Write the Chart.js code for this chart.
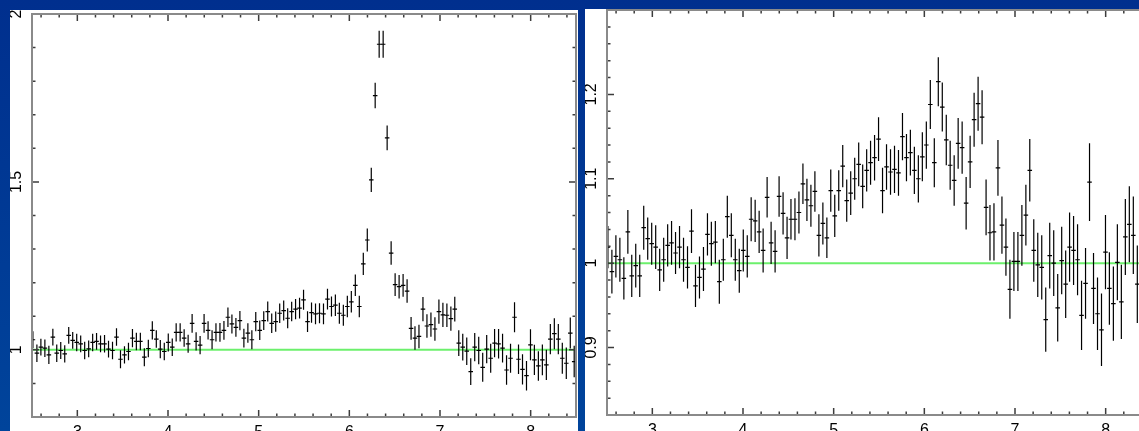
<!DOCTYPE html>
<html>
<head>
<meta charset="utf-8">
<title>Ratio to continuum</title>
<script src="https://cdn.jsdelivr.net/npm/chart.js@4.4.1/dist/chart.umd.min.js"></script>
<style>
    html, body { margin: 0; padding: 0; width: 1139px; height: 431px; overflow: hidden; }
    body { position: relative; background: linear-gradient(to bottom, #002f8e 0%, #00449b 100%); }
    canvas { position: absolute; background: #fff; }
    #left { left: 10px; top: 10px; }
    #right { left: 585px; top: 9px; }
</style>
</head>
<body>
<canvas id="left" width="568" height="421"></canvas>
<canvas id="right" width="575" height="422"></canvas>
<script>
// energy bin centres (keV), shared by both panels
const energies = [
    2.510, 2.554, 2.598, 2.642, 2.686, 2.730, 2.773, 2.817, 2.861, 2.905,
    2.949, 2.993, 3.037, 3.081, 3.125, 3.169, 3.212, 3.256, 3.300, 3.344,
    3.388, 3.432, 3.476, 3.520, 3.564, 3.608, 3.651, 3.695, 3.739, 3.783,
    3.827, 3.871, 3.915, 3.959, 4.003, 4.047, 4.090, 4.134, 4.178, 4.222,
    4.266, 4.310, 4.354, 4.398, 4.442, 4.486, 4.529, 4.573, 4.617, 4.661,
    4.705, 4.749, 4.793, 4.837, 4.881, 4.925, 4.968, 5.012, 5.056, 5.100,
    5.144, 5.188, 5.232, 5.276, 5.320, 5.364, 5.407, 5.451, 5.495, 5.539,
    5.583, 5.627, 5.671, 5.715, 5.759, 5.803, 5.846, 5.890, 5.934, 5.978,
    6.022, 6.066, 6.110, 6.154, 6.198, 6.242, 6.285, 6.329, 6.373, 6.417,
    6.461, 6.505, 6.549, 6.593, 6.637, 6.681, 6.724, 6.768, 6.812, 6.856,
    6.900, 6.944, 6.988, 7.032, 7.076, 7.120, 7.163, 7.207, 7.251, 7.295,
    7.339, 7.383, 7.427, 7.471, 7.515, 7.559, 7.602, 7.646, 7.690, 7.734,
    7.778, 7.822, 7.866, 7.910, 7.954, 7.998, 8.041, 8.085, 8.129, 8.173,
    8.217, 8.261, 8.305, 8.349, 8.393, 8.437, 8.480
];

// left panel: data / continuum ratio
const leftRatio = [
    1.030, 0.990, 1.008, 1.005, 0.985, 1.038, 0.990, 0.998, 0.988, 1.043,
    1.028, 1.022, 1.018, 0.998, 1.003, 1.022, 1.025, 1.018, 1.018, 1.002,
    0.998, 1.038, 0.972, 0.985, 0.995, 1.035, 1.025, 1.025, 0.978, 1.004,
    1.058, 1.032, 1.002, 0.995, 1.022, 1.008, 1.052, 1.052, 1.035, 1.018,
    1.079, 1.025, 1.014, 1.079, 1.058, 1.030, 1.052, 1.052, 1.058, 1.097,
    1.077, 1.067, 1.087, 1.035, 1.050, 1.030, 1.084, 1.058, 1.087, 1.114,
    1.079, 1.084, 1.109, 1.117, 1.094, 1.114, 1.121, 1.124, 1.149, 1.084,
    1.111, 1.107, 1.109, 1.107, 1.151, 1.129, 1.133, 1.109, 1.103, 1.129,
    1.143, 1.192, 1.129, 1.256, 1.327, 1.506, 1.757, 1.910, 1.910, 1.631,
    1.288, 1.194, 1.188, 1.192, 1.175, 1.064, 1.035, 1.040, 1.121, 1.071,
    1.075, 1.062, 1.114, 1.104, 1.103, 1.093, 1.121, 1.020, 1.008, 0.996,
    0.935, 1.008, 0.998, 0.948, 1.002, 0.975, 1.020, 1.018, 1.005, 0.940,
    0.975, 1.097, 0.972, 0.942, 0.923, 1.015, 0.970, 0.952, 0.970, 0.955,
    1.032, 1.048, 1.032, 0.975, 0.960, 1.050, 0.965
];
const leftError = [
    0.025, 0.026, 0.025, 0.026, 0.027, 0.025, 0.026, 0.025, 0.026, 0.025,
    0.025, 0.026, 0.025, 0.026, 0.025, 0.026, 0.025, 0.025, 0.026, 0.025,
    0.026, 0.026, 0.027, 0.026, 0.026, 0.027, 0.026, 0.026, 0.027, 0.026,
    0.027, 0.026, 0.027, 0.026, 0.027, 0.026, 0.027, 0.027, 0.026, 0.027,
    0.028, 0.027, 0.027, 0.028, 0.027, 0.028, 0.027, 0.028, 0.028, 0.029,
    0.028, 0.028, 0.029, 0.028, 0.029, 0.028, 0.029, 0.029, 0.028, 0.030,
    0.029, 0.030, 0.029, 0.030, 0.030, 0.029, 0.030, 0.031, 0.030, 0.031,
    0.030, 0.031, 0.030, 0.031, 0.031, 0.030, 0.032, 0.031, 0.031, 0.032,
    0.032, 0.032, 0.032, 0.033, 0.034, 0.036, 0.038, 0.040, 0.040, 0.037,
    0.035, 0.034, 0.035, 0.034, 0.035, 0.034, 0.035, 0.035, 0.036, 0.035,
    0.036, 0.035, 0.036, 0.036, 0.035, 0.036, 0.037, 0.038, 0.040, 0.041,
    0.040, 0.042, 0.041, 0.043, 0.042, 0.043, 0.042, 0.044, 0.043, 0.044,
    0.043, 0.045, 0.044, 0.045, 0.044, 0.046, 0.045, 0.044, 0.046, 0.045,
    0.045, 0.046, 0.045, 0.046, 0.047, 0.046, 0.047
];

// right panel: ratio after fitting the narrow line
const rightRatio = [
    1.019, 0.990, 1.008, 1.004, 0.982, 1.037, 0.985, 0.997, 0.985, 1.042,
    1.029, 1.023, 1.019, 0.992, 1.004, 1.021, 1.024, 1.012, 1.019, 1.004,
    0.995, 1.038, 0.973, 0.983, 0.993, 1.034, 1.023, 1.025, 0.978, 1.004,
    1.055, 1.033, 1.004, 0.991, 1.015, 1.008, 1.052, 1.050, 1.037, 1.015,
    1.078, 1.024, 1.014, 1.079, 1.059, 1.030, 1.052, 1.052, 1.060, 1.094,
    1.075, 1.068, 1.085, 1.033, 1.047, 1.030, 1.086, 1.056, 1.086, 1.115,
    1.074, 1.083, 1.100, 1.117, 1.091, 1.110, 1.119, 1.125, 1.147, 1.086,
    1.114, 1.108, 1.111, 1.107, 1.150, 1.125, 1.131, 1.110, 1.100, 1.126,
    1.140, 1.188, 1.119, 1.215, 1.185, 1.146, 1.116, 1.098, 1.142, 1.137,
    1.071, 1.120, 1.170, 1.189, 1.173, 1.066, 1.036, 1.037, 1.113, 1.045,
    1.019, 0.969, 1.002, 1.002, 1.033, 1.057, 1.110, 1.015, 0.998, 0.995,
    0.933, 1.009, 1.000, 0.947, 1.003, 0.975, 1.019, 1.015, 1.004, 0.938,
    0.976, 1.096, 0.970, 0.940, 0.921, 1.013, 0.970, 0.952, 1.001, 0.954,
    1.031, 1.046, 1.033, 0.975
];
const rightError = [
    0.025, 0.026, 0.025, 0.026, 0.025, 0.026, 0.025, 0.026, 0.025, 0.026,
    0.025, 0.025, 0.026, 0.025, 0.026, 0.025, 0.026, 0.025, 0.025, 0.026,
    0.025, 0.026, 0.025, 0.025, 0.026, 0.025, 0.026, 0.025, 0.026, 0.025,
    0.025, 0.026, 0.025, 0.026, 0.025, 0.025, 0.026, 0.025, 0.025, 0.026,
    0.024, 0.025, 0.025, 0.024, 0.025, 0.025, 0.024, 0.025, 0.025, 0.024,
    0.025, 0.025, 0.024, 0.025, 0.025, 0.024, 0.025, 0.025, 0.024, 0.025,
    0.025, 0.026, 0.025, 0.026, 0.026, 0.025, 0.026, 0.027, 0.026, 0.027,
    0.027, 0.027, 0.028, 0.027, 0.028, 0.028, 0.027, 0.028, 0.028, 0.029,
    0.028, 0.029, 0.029, 0.029, 0.029, 0.030, 0.029, 0.030, 0.030, 0.031,
    0.031, 0.031, 0.032, 0.032, 0.032, 0.033, 0.033, 0.034, 0.033, 0.034,
    0.034, 0.035, 0.035, 0.035, 0.036, 0.036, 0.037, 0.037, 0.038, 0.038,
    0.038, 0.039, 0.039, 0.040, 0.040, 0.040, 0.041, 0.041, 0.042, 0.041,
    0.042, 0.046, 0.042, 0.043, 0.043, 0.044, 0.043, 0.044, 0.045, 0.044,
    0.045, 0.045, 0.046, 0.046
];

// axis labels
const xTickLabels = [3, 4, 5, 6, 7, 8];
const leftYLabels = [1, 1.5, 2];
const rightYLabels = [0.9, 1, 1.1, 1.2];

const xMin = 2.5, xMax = 8.5;
const modelLevel = 1;
const binHalf = 0.025;
const labelFont = '16px "Liberation Sans", Arial, sans-serif';

// vertical error bar + horizontal bin width for every point
const crossPlugin = {
    id: 'crosses',
    afterDatasetsDraw: function (chart) {
        let ctx = chart.ctx, a = chart.chartArea;
        let xs = chart.scales.x, ys = chart.scales.y;
        let ds = chart.data.datasets[1];
        ctx.save();
        ctx.beginPath();
        ctx.rect(a.left, a.top, a.right - a.left, a.bottom - a.top);
        ctx.clip();
        ctx.strokeStyle = '#000';
        ctx.lineWidth = 1.2;
        ds.data.forEach(function (p, i) {
            let px = xs.getPixelForValue(p.x);
            let py = ys.getPixelForValue(p.y);
            ctx.beginPath();
            ctx.moveTo(px, ys.getPixelForValue(p.y + ds.errors[i]));
            ctx.lineTo(px, ys.getPixelForValue(p.y - ds.errors[i]));
            ctx.moveTo(xs.getPixelForValue(p.x - binHalf), py);
            ctx.lineTo(xs.getPixelForValue(p.x + binHalf), py);
            ctx.stroke();
        });
        ctx.restore();
    }
};

// frame with inward ticks on all four sides, rotated y labels
const framePlugin = {
    id: 'frame',
    afterDraw: function (chart) {
        let ctx = chart.ctx, a = chart.chartArea;
        let xs = chart.scales.x, ys = chart.scales.y;
        let o = chart.options.plugins.frame;
        ctx.save();

        ctx.strokeStyle = '#3c3c3c';
        ctx.lineWidth = 1.5;
        ctx.beginPath();
        let k, v, p, len;
        for (k = Math.ceil(xMin / 0.2 - 1e-6); k * 0.2 <= xMax + 1e-6; k++) {
            v = k * 0.2;
            len = Math.abs(v - Math.round(v)) < 1e-6 ? 7 : 3.5;
            p = xs.getPixelForValue(v);
            ctx.moveTo(p, a.top); ctx.lineTo(p, a.top + len);
            ctx.moveTo(p, a.bottom); ctx.lineTo(p, a.bottom - len);
        }
        for (k = Math.ceil(o.yMin / o.yMinor - 1e-6); k * o.yMinor <= o.yMax + 1e-6; k++) {
            v = k * o.yMinor;
            len = Math.abs(v / o.yMajor - Math.round(v / o.yMajor)) < 1e-6 ? 7 : 3.5;
            p = ys.getPixelForValue(v);
            ctx.moveTo(a.left, p); ctx.lineTo(a.left + len, p);
            ctx.moveTo(a.right, p); ctx.lineTo(a.right - len, p);
        }
        ctx.stroke();

        ctx.strokeStyle = '#8a8a8a';
        ctx.lineWidth = 2;
        ctx.strokeRect(a.left, a.top, a.right - a.left, a.bottom - a.top);

        ctx.fillStyle = '#000';
        ctx.font = labelFont;
        ctx.textAlign = 'center';
        ctx.textBaseline = 'alphabetic';
        xTickLabels.forEach(function (t) {
            ctx.fillText(String(t), xs.getPixelForValue(t), a.bottom + 19.5);
        });
        ctx.textBaseline = 'middle';
        o.labels.forEach(function (t) {
            ctx.save();
            ctx.translate(a.left - 15.5, ys.getPixelForValue(t));
            ctx.rotate(-Math.PI / 2);
            ctx.fillText(String(t), 0, 0);
            ctx.restore();
        });
        ctx.restore();
    }
};

function drawPanel(id, ratio, errors, yMin, yMax, yMinor, yMajor, labels, padding) {
    let points = ratio.map(function (r, i) {
        return {x: energies[i], y: r}
    });
    return new Chart(document.getElementById(id), {
        type: 'scatter',
        data: {
            datasets: [
                {
                    type: 'line',
                    data: [{x: xMin, y: modelLevel}, {x: xMax, y: modelLevel}],
                    borderColor: '#6cf06c',
                    borderWidth: 2,
                    pointRadius: 0
                },
                {
                    data: points,
                    errors: errors,
                    pointRadius: 0
                }
            ]
        },
        options: {
            responsive: false,
            animation: false,
            events: [],
            layout: {padding: padding},
            plugins: {
                legend: {display: false},
                tooltip: {enabled: false},
                frame: {yMin: yMin, yMax: yMax, yMinor: yMinor, yMajor: yMajor, labels: labels}
            },
            scales: {
                x: {type: 'linear', min: xMin, max: xMax, display: false},
                y: {type: 'linear', min: yMin, max: yMax, display: false}
            }
        },
        plugins: [crossPlugin, framePlugin]
    });
}

drawPanel('left', leftRatio, leftError, 0.8, 2.0, 0.1, 0.5, leftYLabels,
    {left: 22, top: 4, right: 2, bottom: 14});
drawPanel('right', rightRatio, rightError, 0.82, 1.3, 0.02, 0.1, rightYLabels,
    {left: 22, top: 1, right: 9, bottom: 16});
</script>
</body>
</html>
